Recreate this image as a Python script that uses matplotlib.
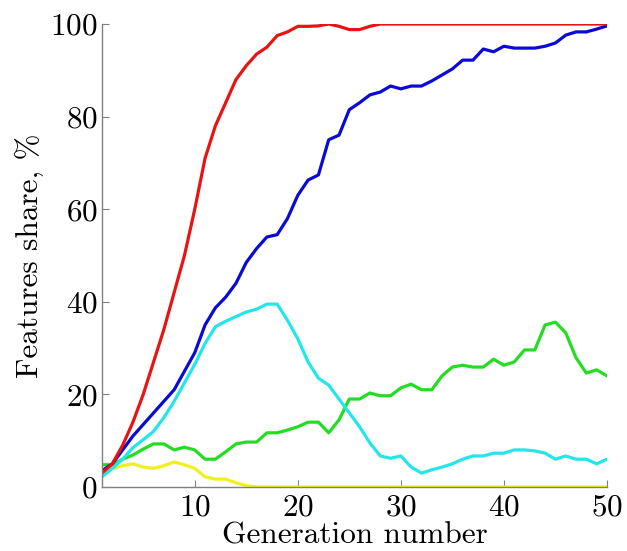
import matplotlib
matplotlib.use('Agg')
import matplotlib.pyplot as plt

gen = list(range(1, 51))

# share of each feature, %
red = [3, 5, 9, 14, 20, 27, 34, 42, 50, 60,
       71, 78, 83, 88, 91, 93.5, 95, 97.5, 98.3, 99.5,
       99.5, 99.6, 100, 99.5, 98.8, 98.8, 99.5, 100, 100, 100,
       100, 100, 100, 100, 100, 100, 100, 100, 100, 100,
       100, 100, 100, 100, 100, 100, 100, 100, 100, 100]
blue = [3.5, 5, 8, 11, 13.5, 16, 18.5, 21, 25, 29,
        35, 38.7, 41, 44, 48.5, 51.5, 54, 54.5, 58, 63,
        66.3, 67.4, 75, 76, 81.5, 83, 84.7, 85.3, 86.6, 86,
        86.6, 86.6, 87.7, 89, 90.3, 92.2, 92.2, 94.6, 94, 95.2,
        94.8, 94.8, 94.8, 95.2, 95.9, 97.6, 98.3, 98.3, 98.9, 99.6]
cyan = [2.2, 4, 6, 8.5, 10.2, 12, 15, 18.5, 22.5, 26.5,
        31, 34.6, 35.8, 36.8, 37.8, 38.4, 39.5, 39.5, 36, 32,
        27, 23.5, 22, 19, 16, 13, 9.5, 6.7, 6.2, 6.7,
        4.3, 3, 3.7, 4.3, 5, 6, 6.7, 6.7, 7.3, 7.3,
        8, 8, 7.8, 7.3, 6, 6.7, 6, 6, 5, 6]
green = [4.8, 4.8, 6, 6.9, 8.2, 9.3, 9.3, 8, 8.6, 8,
         6, 6, 7.6, 9.3, 9.7, 9.7, 11.7, 11.7, 12.3, 13,
         14, 14, 11.7, 14.5, 19, 19, 20.3, 19.7, 19.7, 21.4,
         22.2, 21, 21, 24, 25.9, 26.3, 25.9, 25.9, 27.6, 26.3,
         27, 29.6, 29.6, 35, 35.6, 33.3, 27.9, 24.6, 25.3, 24]
yellow = [3.2, 4, 4.6, 5, 4.3, 4, 4.6, 5.4, 4.8, 4,
          2.2, 1.7, 1.7, 0.9, 0.3, 0, 0, 0, 0, 0,
          0, 0, 0, 0, 0, 0, 0, 0, 0, 0,
          0, 0, 0, 0, 0, 0, 0, 0, 0, 0,
          0, 0, 0, 0, 0, 0, 0, 0, 0, 0]

xticks = [10, 20, 30, 40, 50]
yticks = [0, 20, 40, 60, 80, 100]

plt.rcParams['font.family'] = ['cmr10', 'DejaVu Serif']
plt.rcParams['axes.formatter.use_mathtext'] = True

fig = plt.figure(figsize=(6.27, 5.51), dpi=100)
ax = fig.add_axes([0.1627, 0.1162, 0.8053, 0.8402])

lw = 2.3
ax.plot(gen, yellow, color='#f0f020', lw=lw)
ax.plot(gen, green, color='#22dd22', lw=lw)
ax.plot(gen, cyan, color='#22e6ea', lw=lw)
ax.plot(gen, blue, color='#0a0ad8', lw=lw)
ax.plot(gen, red, color='#e81414', lw=lw)

ax.set_xlim(1, 50)
ax.set_ylim(0, 100)
ax.set_xticks(xticks)
ax.set_yticks(yticks)

for s in ['top', 'right']:
    ax.spines[s].set_visible(False)
for s in ['left', 'bottom']:
    ax.spines[s].set_color('#808080')
    ax.spines[s].set_linewidth(1.0)
ax.tick_params(direction='in', length=5, color='#808080', labelsize=22.5)
ax.tick_params(axis='x', pad=5)
ax.tick_params(axis='y', pad=3)

ax.set_xlabel('Generation number', fontsize=22.5, labelpad=0)
ax.set_ylabel('Features share, %', fontsize=22.5, labelpad=4)

fig.savefig('out.png', dpi=100)
